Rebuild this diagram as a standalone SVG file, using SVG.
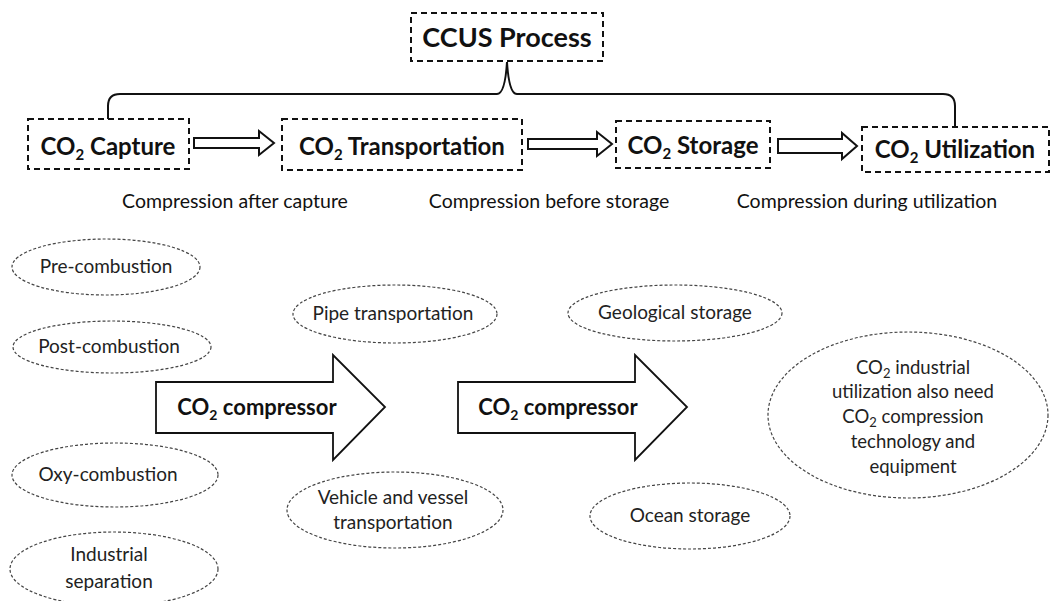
<svg xmlns="http://www.w3.org/2000/svg" width="1050" height="601" viewBox="0 0 1050 601">
<style>
.box{fill:#fff;stroke:#111;stroke-width:2;stroke-dasharray:6,4}
.ell{fill:#fff;stroke:#444;stroke-width:1.2;stroke-dasharray:3,2}
.harrow{fill:#fff;stroke:#111;stroke-width:2}
.bigarrow{fill:#fff;stroke:#111;stroke-width:1.8}
.t{font-family:Lato,"Open Sans",sans-serif;fill:#111;text-anchor:middle}
.title{font-size:27px;font-weight:bold}
.hb{font-size:24px;font-weight:bold}
.sub{font-size:19.5px}
.el{font-size:19px;fill:#222}
.note{font-size:18.5px;fill:#222}
.ab{font-size:22px;font-weight:bold}
</style>
<rect width="1050" height="601" fill="#fff"/>
<g id="connectors">
<path d="M108,119 L108,106 Q108,94 120,94 L497,94 Q505,94 507,62 Q509,94 517,94 L943,94 Q955,94 955,106 L955,127" fill="none" stroke="#111" stroke-width="2"/>
<polygon class="harrow" points="194,138 259,138 259,131 274,143 259,155 259,148 194,148"/>
<polygon class="harrow" points="528,139 597,139 597,132 612,144 597,156 597,149 528,149"/>
<polygon class="harrow" points="778,139 842,139 842,133 857,146 842,159 842,153 778,153"/>
</g>
<g id="ccus"><rect class="box" x="411" y="13" width="192" height="48"/><text class="t title" x="507" y="47">CCUS Process</text></g>
<g id="capture"><rect class="box" x="28" y="119" width="161" height="50"/><text class="t hb" x="108" y="155">CO<tspan font-size="15" dy="5">2</tspan><tspan dy="-5"> Capture</tspan></text></g>
<g id="transportation"><rect class="box" x="282" y="119" width="240" height="51"/><text class="t hb" x="402" y="155">CO<tspan font-size="15" dy="5">2</tspan><tspan dy="-5"> Transportation</tspan></text></g>
<g id="storage"><rect class="box" x="616" y="121" width="154" height="47"/><text class="t hb" x="693" y="154">CO<tspan font-size="15" dy="5">2</tspan><tspan dy="-5"> Storage</tspan></text></g>
<g id="utilization"><rect class="box" x="862" y="127" width="187" height="45"/><text class="t hb" x="955" y="158">CO<tspan font-size="15" dy="5">2</tspan><tspan dy="-5"> Utilization</tspan></text></g>
<g id="labels">
<text class="t sub" x="235" y="208">Compression after capture</text>
<text class="t sub" x="549" y="208">Compression before storage</text>
<text class="t sub" x="867" y="208">Compression during utilization</text>
</g>
<g id="pre"><ellipse class="ell" cx="106" cy="267" rx="94" ry="28"/><text class="t el" x="106" y="273">Pre-combustion</text></g>
<g id="post"><ellipse class="ell" cx="112" cy="347" rx="99" ry="26"/><text class="t el" x="109" y="353">Post-combustion</text></g>
<g id="oxy"><ellipse class="ell" cx="115" cy="475" rx="103" ry="32"/><text class="t el" x="108" y="481">Oxy-combustion</text></g>
<g id="industrial"><ellipse class="ell" cx="114" cy="569" rx="104" ry="37"/><text class="t el" x="109" y="561">Industrial</text><text class="t el" x="109" y="588">separation</text></g>
<g id="pipe"><ellipse class="ell" cx="395" cy="314" rx="102" ry="29"/><text class="t el" x="393" y="320">Pipe transportation</text></g>
<g id="vehicle"><ellipse class="ell" cx="395" cy="510" rx="108" ry="38"/><text class="t el" x="393" y="504">Vehicle and vessel</text><text class="t el" x="393" y="529">transportation</text></g>
<g id="geo"><ellipse class="ell" cx="675" cy="313" rx="107" ry="28"/><text class="t el" x="675" y="319">Geological storage</text></g>
<g id="ocean"><ellipse class="ell" cx="690" cy="516" rx="100" ry="33"/><text class="t el" x="690" y="522">Ocean storage</text></g>
<g id="util-note"><ellipse class="ell" cx="908" cy="415" rx="140" ry="83"/>
<text class="t note" x="913" y="374">CO<tspan font-size="13" dy="4">2</tspan><tspan dy="-4"> industrial</tspan></text>
<text class="t note" x="913" y="398">utilization also need</text>
<text class="t note" x="913" y="423">CO<tspan font-size="13" dy="4">2</tspan><tspan dy="-4"> compression</tspan></text>
<text class="t note" x="913" y="448">technology and</text>
<text class="t note" x="913" y="473">equipment</text>
</g>
<g id="compressor1"><polygon class="bigarrow" points="156,382 333,382 333,355 385,407 333,460 333,433 156,433"/><text class="t ab" x="257" y="415">CO<tspan font-size="14" dy="5">2</tspan><tspan dy="-5"> compressor</tspan></text></g>
<g id="compressor2"><polygon class="bigarrow" points="458,382 635,382 635,355 687,407 635,460 635,433 458,433"/><text class="t ab" x="558" y="415">CO<tspan font-size="14" dy="5">2</tspan><tspan dy="-5"> compressor</tspan></text></g>
</svg>
